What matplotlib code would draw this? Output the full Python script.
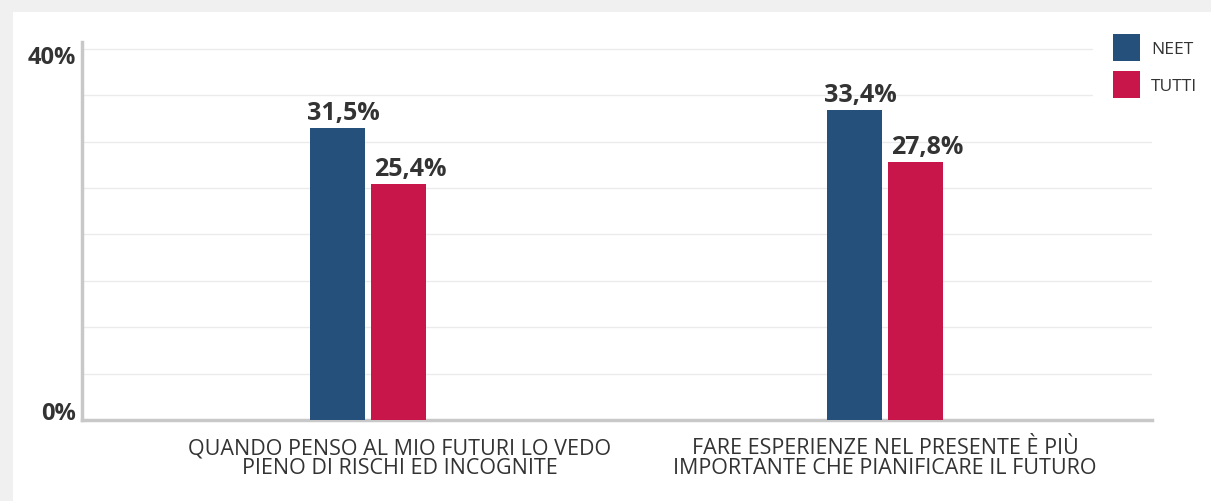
import matplotlib.pyplot as plt
from matplotlib.patches import Rectangle

categories = [
    "QUANDO PENSO AL MIO FUTURI LO VEDO\nPIENO DI RISCHI ED INCOGNITE",
    "FARE ESPERIENZE NEL PRESENTE È PIÙ\nIMPORTANTE CHE PIANIFICARE IL FUTURO",
]
series_names = ["NEET", "TUTTI"]
neet = [31.5, 33.4]
tutti = [25.4, 27.8]
value_labels = [["31,5%", "33,4%"], ["25,4%", "27,8%"]]
y_ticks = [0, 40]
y_tick_labels = ["0%", "40%"]

BLUE = "#25507c"
RED = "#c8164b"
TEXT = "#333333"


def main():
    plt.rcParams["font.family"] = ["Open Sans", "DejaVu Sans"]
    fig = plt.figure(figsize=(12.11, 5.02), dpi=100, facecolor="#f0f0f0")
    # white card behind the chart
    fig.patches.append(Rectangle((13 / 1211, 0), 1, 1 - 13 / 502, transform=fig.transFigure,
                                 facecolor="white", edgecolor="none", zorder=-10))

    ax = fig.add_axes([82 / 1211, 1 - 421 / 502, (1152 - 82) / 1211, (421 - 43) / 502])
    ax.set_facecolor("none")

    width = 0.106
    offset = 0.059
    xs = list(range(len(categories)))
    for i, (series, color) in enumerate(zip([neet, tutti], [BLUE, RED])):
        pos = [x + (offset if i else -offset) for x in xs]
        ax.bar(pos, series, width=width, color=color, label=series_names[i], zorder=3)
        for p, v, lab in zip(pos, series, value_labels[i]):
            ax.annotate(lab, xy=(p, v), xytext=(12 if i else 6, 9), textcoords="offset pixels",
                        ha="center", va="baseline", fontsize=18, fontweight="bold",
                        color=TEXT, zorder=4)

    ax.set_xlim(-0.553, 1.516)
    ax.set_ylim(0, 40.75)

    for g in range(5, 45, 5):
        ax.axhline(g, color="#ebebeb", linewidth=1, zorder=1)

    # y labels only at 0% and 40%, nudged inside the plot band
    ax.set_yticks([])
    for y, lab, dy in zip(y_ticks, y_tick_labels, [7, -8]):
        ax.annotate(lab, xy=(0, y), xycoords=("axes fraction", "data"), xytext=(-6, dy),
                    textcoords="offset pixels", ha="right", va="center", fontsize=17,
                    fontweight="bold", color=TEXT, annotation_clip=False)

    # category labels under each pair of bars
    ax.set_xticks([])
    for x, lab, dx in zip(xs, categories, [32, 0]):
        ax.annotate(lab, xy=(x, 0), xycoords=("data", "axes fraction"), xytext=(dx, -17),
                    textcoords="offset pixels", ha="center", va="top", fontsize=15.5,
                    color=TEXT, linespacing=0.92, multialignment="center",
                    annotation_clip=False)

    for side in ["top", "right"]:
        ax.spines[side].set_visible(False)
    for side in ["left", "bottom"]:
        ax.spines[side].set_color("#c8c8c8")
        ax.spines[side].set_linewidth(2.5)

    fs = 12.5
    fs_px = fs * 100 / 72
    leg = ax.legend(loc="upper left", bbox_to_anchor=((1113 - 20) / 1211, 1 - (35 - 20) / 502),
                    bbox_transform=fig.transFigure, frameon=True, fontsize=fs,
                    handlelength=27 / fs_px, handleheight=2.01, handletextpad=11 / fs_px,
                    labelspacing=10 / fs_px, borderaxespad=0, borderpad=20 / fs_px)
    leg.get_frame().set_facecolor("white")
    leg.get_frame().set_edgecolor("none")
    leg.get_frame().set_alpha(1)
    leg.get_frame().set_boxstyle("square", pad=0)
    for t in leg.get_texts():
        t.set_color(TEXT)

    fig.savefig("out.png", dpi=100, facecolor=fig.get_facecolor())


if __name__ == "__main__":
    main()
